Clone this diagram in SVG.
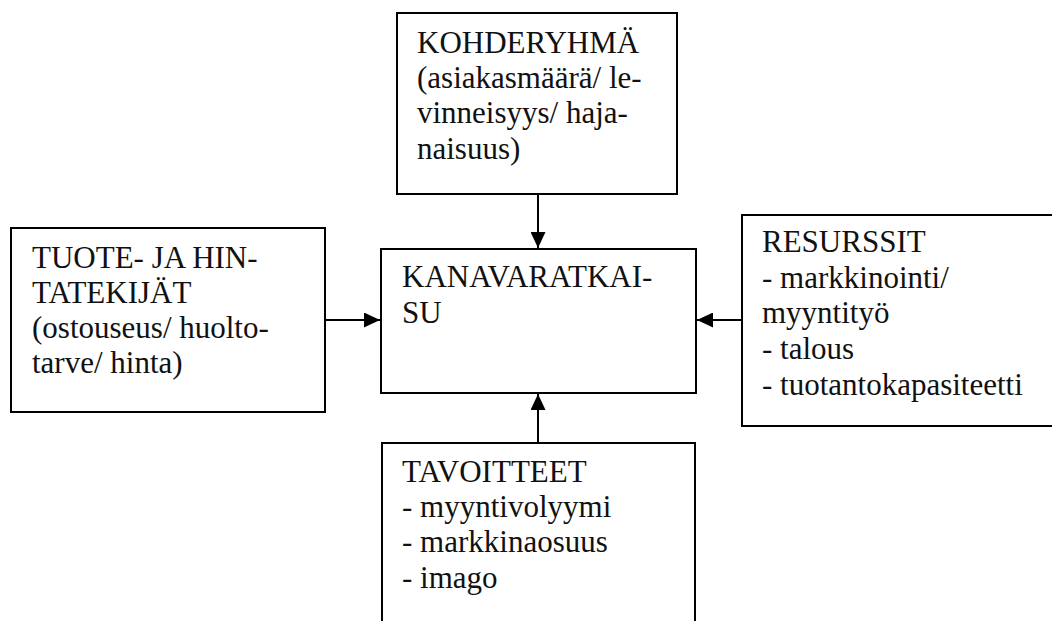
<svg xmlns="http://www.w3.org/2000/svg" width="1052" height="621" viewBox="0 0 1052 621">
  <style>
    .box { fill: #ffffff; stroke: #000000; stroke-width: 2; }
    .lbl { font-size: 31px; fill: #111111; }
    .link { stroke: #000000; stroke-width: 2; fill: none; }
  </style>
  <defs>
    <marker id="head" viewBox="0 0 16 15" refX="16" refY="7.5" markerWidth="16" markerHeight="15" markerUnits="userSpaceOnUse" orient="auto">
      <path d="M0,0 L16,7.5 L0,15 Z" fill="#000000"/>
    </marker>
  </defs>
  <rect width="1052" height="621" fill="#ffffff"/>

  <g font-family="Liberation Serif, DejaVu Serif, Times New Roman, serif">
    <g id="kohderyhma">
      <rect class="box" x="397" y="13" width="280" height="181"/>
      <text class="lbl" x="417" y="53">KOHDERYHMÄ</text>
      <text class="lbl" x="417" y="88">(asiakasmäärä/ le-</text>
      <text class="lbl" x="417" y="123">vinneisyys/ haja-</text>
      <text class="lbl" x="417" y="159">naisuus)</text>
    </g>

    <g id="tuote-ja-hintatekijat">
      <rect class="box" x="11" y="228" width="314" height="184"/>
      <text class="lbl" x="32" y="268">TUOTE- JA HIN-</text>
      <text class="lbl" x="32" y="303">TATEKIJÄT</text>
      <text class="lbl" x="32" y="338">(ostouseus/ huolto-</text>
      <text class="lbl" x="32" y="373">tarve/ hinta)</text>
    </g>

    <g id="kanavaratkaisu">
      <rect class="box" x="381" y="249" width="315" height="144"/>
      <text class="lbl" x="402" y="287">KANAVARATKAI-</text>
      <text class="lbl" x="402" y="323">SU</text>
    </g>

    <g id="resurssit">
      <rect class="box" x="742" y="215" width="320" height="211"/>
      <text class="lbl" x="762" y="252">RESURSSIT</text>
      <text class="lbl" x="762" y="288">- markkinointi/</text>
      <text class="lbl" x="762" y="323">myyntityö</text>
      <text class="lbl" x="762" y="359">- talous</text>
      <text class="lbl" x="762" y="395">- tuotantokapasiteetti</text>
    </g>

    <g id="tavoitteet">
      <rect class="box" x="382" y="443" width="313" height="200"/>
      <text class="lbl" x="402" y="482">TAVOITTEET</text>
      <text class="lbl" x="402" y="517">- myyntivolyymi</text>
      <text class="lbl" x="402" y="552">- markkinaosuus</text>
      <text class="lbl" x="402" y="588">- imago</text>
    </g>
  </g>

  <g id="connectors">
    <line class="link" x1="538" y1="194" x2="538" y2="248" marker-end="url(#head)"/>
    <line class="link" x1="325" y1="320" x2="380" y2="320" marker-end="url(#head)"/>
    <line class="link" x1="742" y1="320" x2="697" y2="320" marker-end="url(#head)"/>
    <line class="link" x1="538" y1="443" x2="538" y2="394" marker-end="url(#head)"/>
  </g>
</svg>
